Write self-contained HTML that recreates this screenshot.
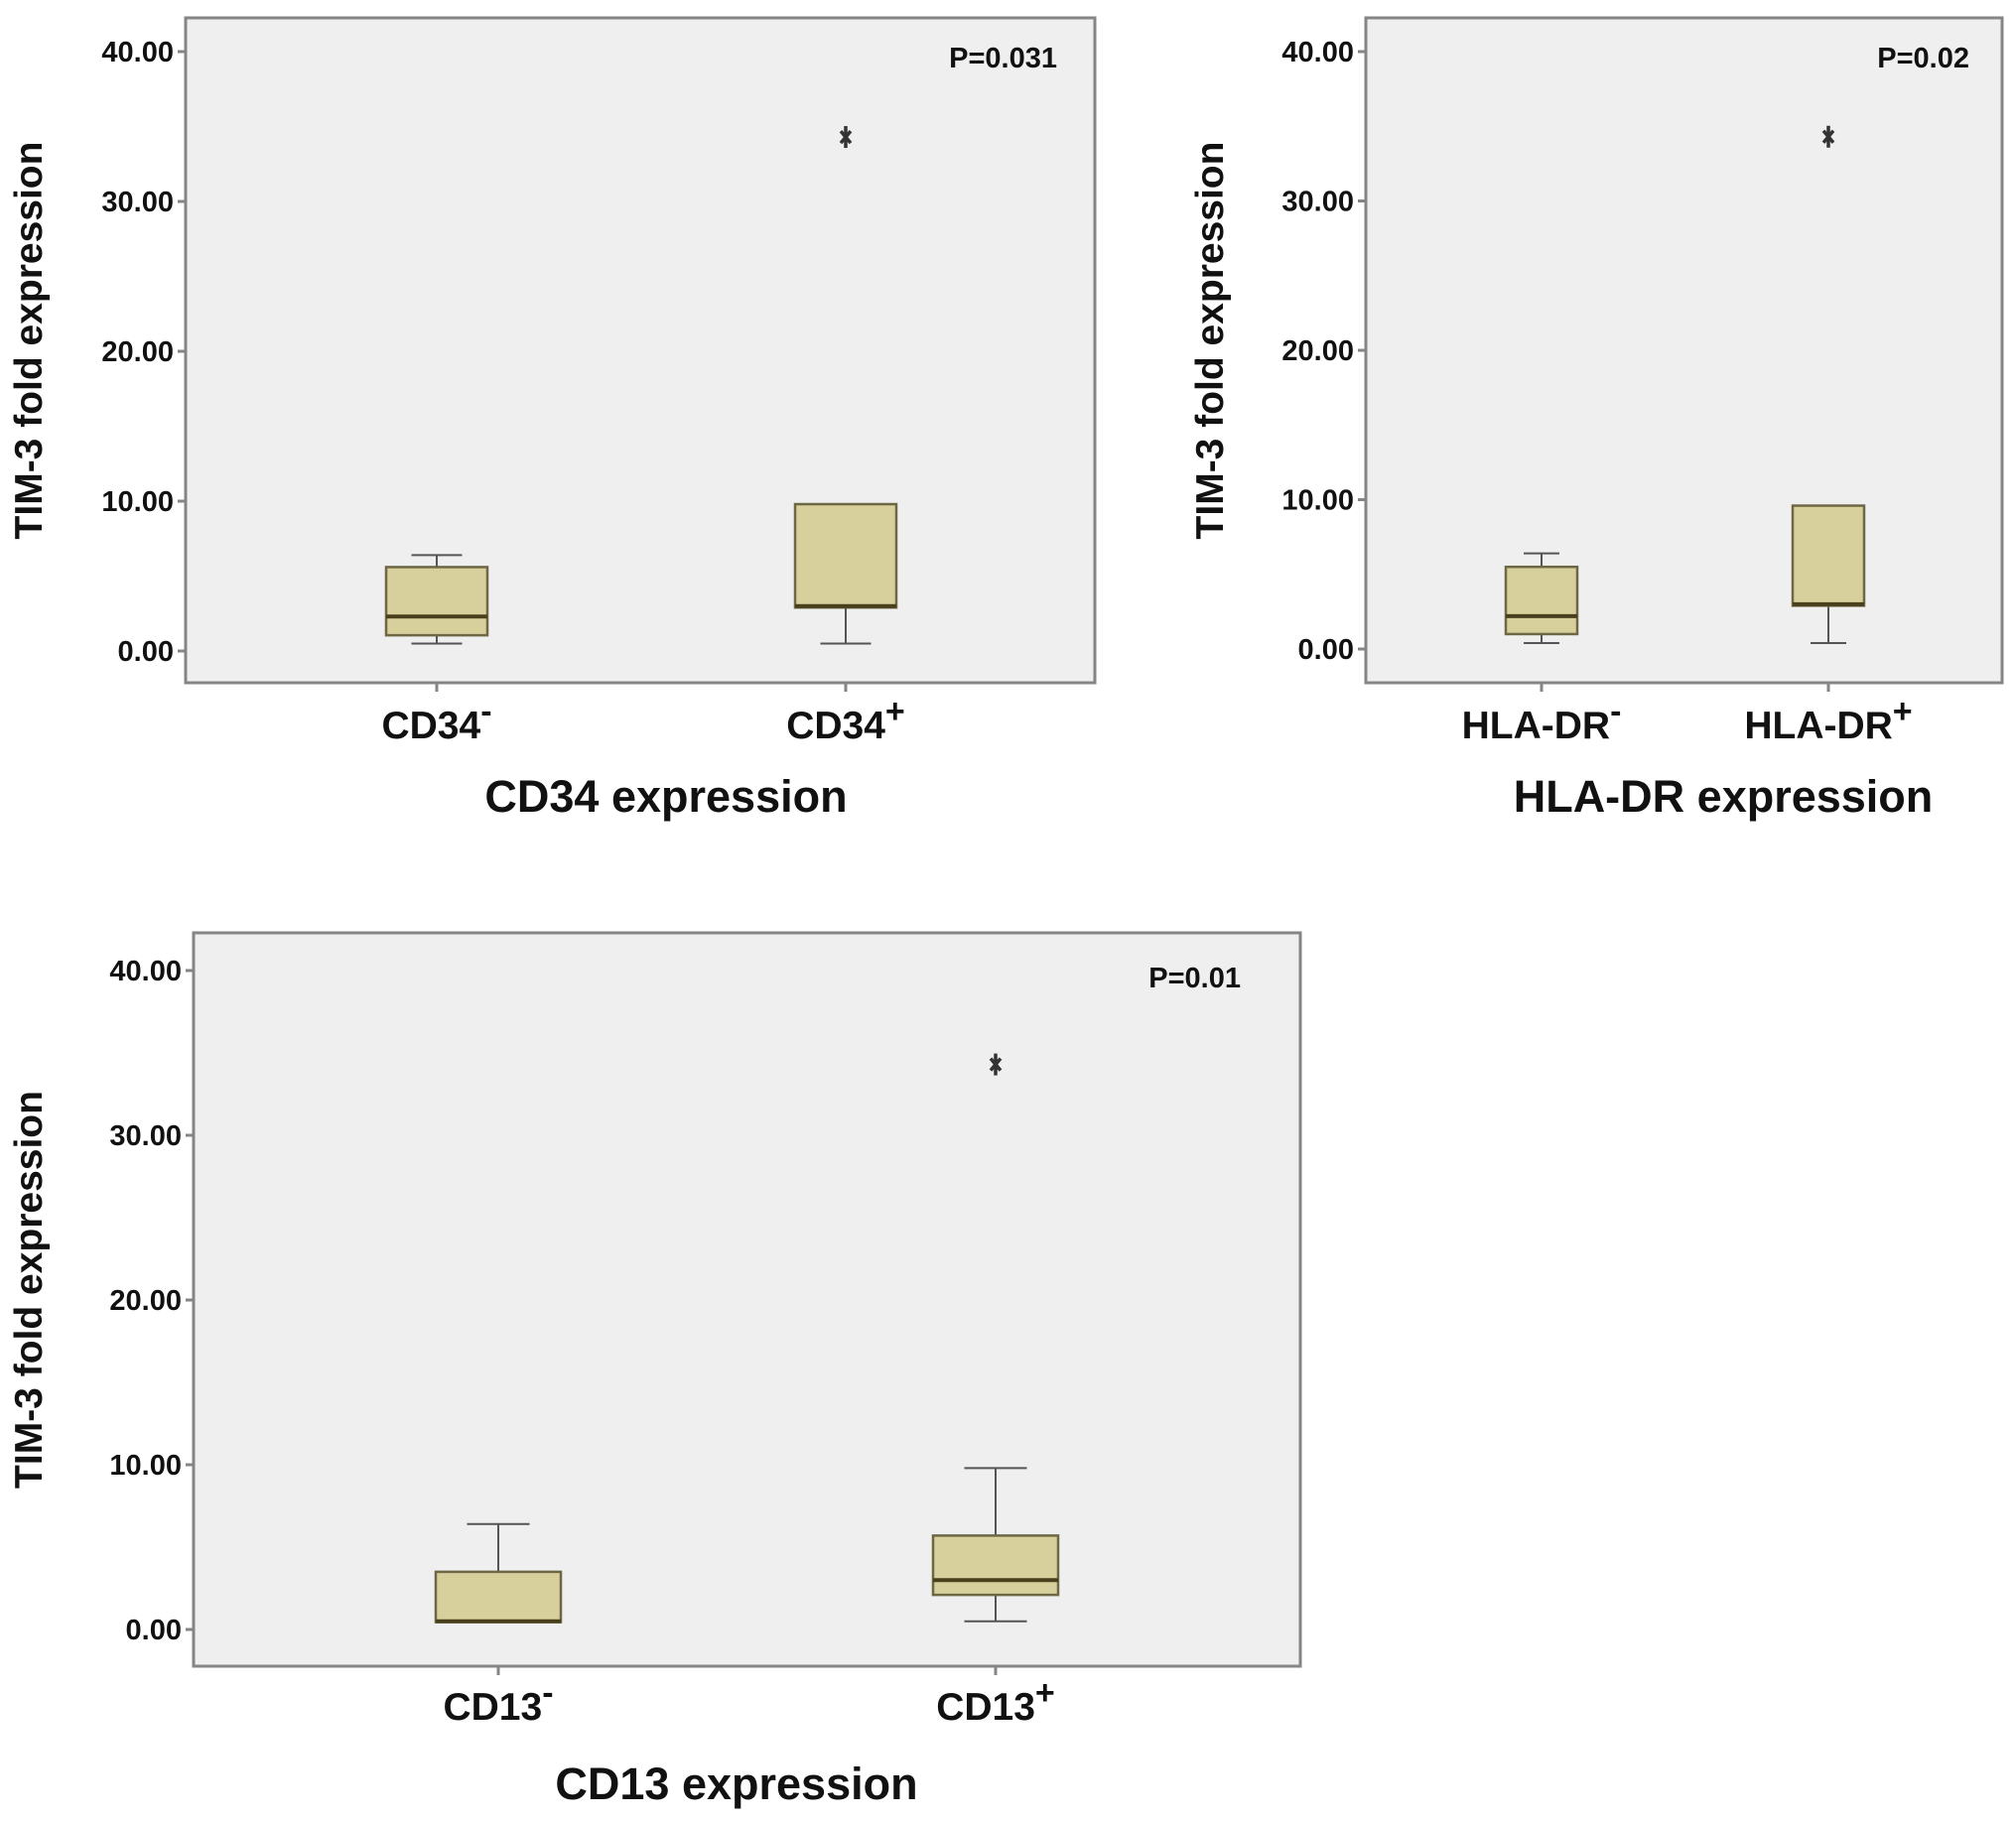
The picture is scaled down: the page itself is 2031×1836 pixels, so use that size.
<!DOCTYPE html>
<html><head><meta charset="utf-8"><style>
html,body{margin:0;padding:0;background:#fff;}
svg text{font-family:"Liberation Sans",Arial,sans-serif;font-weight:bold;fill:#111;}
</style></head><body>
<svg id="c" width="2031" height="1831" viewBox="0 0 2031 1831" xmlns="http://www.w3.org/2000/svg"></svg>
<script>
// Panel data: [whiskerLow, Q1, median, Q3, whiskerHigh]
const cd34Categories = ["CD34", "CD34"];
const cd34Signs = ["-", "+"];
const cd34Stats = [[0.5, 1.05, 2.3, 5.6, 6.4], [0.5, 2.9, 3.0, 9.8, 9.8]];
const cd34Outliers = [[], [34.3]];
const hlaCategories = ["HLA-DR", "HLA-DR"];
const hlaSigns = ["-", "+"];
const hlaStats = [[0.4, 1.0, 2.2, 5.5, 6.4], [0.4, 2.9, 3.0, 9.6, 9.6]];
const hlaOutliers = [[], [34.3]];
const cd13Categories = ["CD13", "CD13"];
const cd13Signs = ["-", "+"];
const cd13Stats = [[0.45, 0.45, 0.5, 3.5, 6.4], [0.5, 2.1, 3.0, 5.7, 9.8]];
const cd13Outliers = [[], [34.3]];
const yTicks = [0, 10, 20, 30, 40];
const yTickLabels = ["0.00", "10.00", "20.00", "30.00", "40.00"];

const NS = "http://www.w3.org/2000/svg";
const svg = document.getElementById("c");
function mk(tag, attrs, parent) {
  const e = document.createElementNS(NS, tag);
  for (const k in attrs) e.setAttribute(k, attrs[k]);
  (parent || svg).appendChild(e);
  return e;
}

function panel(cfg) {
  const g = mk("g", {});
  
  
  const y = v => cfg.y0 + (cfg.y40 - cfg.y0) * v / 40;
  const fr = mk("rect", {x: cfg.L, y: cfg.T, width: cfg.R - cfg.L, height: cfg.B - cfg.T, fill: "#efefef", stroke: "#858585", "stroke-width": 3}, g);
  
  
  yTicks.forEach((t, i) => {
    const ty = y(t);
    const tk = mk("line", {x1: cfg.L - 8, x2: cfg.L, y1: ty, y2: ty, stroke: "#858585", "stroke-width": 3}, g);
    
    
    const tl = mk("text", {x: cfg.L - 12, y: ty + 10, "text-anchor": "end", "font-size": 29}, g);
    tl.textContent = yTickLabels[i];
    
    
  });
  const yt = mk("text", {x: 0, y: 0, transform: `translate(${cfg.yTitleX},${(cfg.T + cfg.B) / 2 - 10}) rotate(-90)`, "text-anchor": "middle", "font-size": 39}, g);
  yt.textContent = "TIM-3 fold expression";
  
  
  cfg.stats.forEach((s, i) => {
    const cx = cfg.centers[i], hw = cfg.halfW;
    const xt = mk("line", {x1: cx, x2: cx, y1: cfg.B, y2: cfg.B + 9, stroke: "#858585", "stroke-width": 3}, g);
    
    
    const wh = mk("g", {stroke: "#555", "stroke-width": 2}, g);
    
    
    mk("line", {x1: cx, x2: cx, y1: y(s[0]), y2: y(s[1])}, wh);
    mk("line", {x1: cx, x2: cx, y1: y(s[3]), y2: y(s[4])}, wh);
    mk("line", {x1: cx - hw / 2, x2: cx + hw / 2, y1: y(s[0]), y2: y(s[0])}, wh);
    mk("line", {x1: cx - hw / 2, x2: cx + hw / 2, y1: y(s[4]), y2: y(s[4])}, wh);
    const bx = mk("rect", {x: cx - hw, y: y(s[3]), width: 2 * hw, height: Math.max(1, y(s[1]) - y(s[3])), fill: "#d7d09d", stroke: "#6d6744", "stroke-width": 2.5}, g);
    
    
    const md = mk("line", {x1: cx - hw, x2: cx + hw, y1: y(s[2]), y2: y(s[2]), stroke: "#4a3f1c", "stroke-width": 4}, g);
    
    
    cfg.outliers[i].forEach(o => {
      const oy = y(o);
      const og = mk("g", {stroke: "#333", "stroke-width": 3.5}, g);
      
      
      mk("line", {x1: cx, x2: cx, y1: oy - 11, y2: oy + 11}, og);
      mk("line", {x1: cx - 5, x2: cx + 5, y1: oy - 6, y2: oy + 6}, og);
      mk("line", {x1: cx - 5, x2: cx + 5, y1: oy + 6, y2: oy - 6}, og);
    });
    const cl = mk("text", {x: cx, y: cfg.catY, "text-anchor": "middle", "font-size": 39}, g);
    
    
    const t1 = mk("tspan", {}, cl); t1.textContent = cfg.cats[i];
    const t2 = mk("tspan", {dy: -16, "font-size": 34}, cl); t2.textContent = cfg.signs[i] === "-" ? "-" : "+";
  });
  const xt = mk("text", {x: cfg.xTitleX, y: cfg.xTitleY, "text-anchor": "middle", "font-size": 45}, g);
  xt.textContent = cfg.xTitle;
  
  
  const p = mk("text", {x: cfg.pX, y: cfg.pY, "text-anchor": "end", "font-size": 29}, g);
  p.textContent = cfg.p;
  
  
}

panel({name: "cd34-panel", L: 187, R: 1103, T: 18, B: 688, y0: 656, y40: 52, yTitleX: 42,
  centers: [440, 852], halfW: 51, stats: cd34Stats, outliers: cd34Outliers, cats: cd34Categories, signs: cd34Signs,
  catY: 744, xTitle: "CD34 expression", xTitleX: 671, xTitleY: 818, p: "P=0.031", pX: 1065, pY: 68});
panel({name: "hla-dr-panel", L: 1376, R: 2017, T: 18, B: 688, y0: 654, y40: 52, yTitleX: 1232,
  centers: [1553, 1842], halfW: 36, stats: hlaStats, outliers: hlaOutliers, cats: hlaCategories, signs: hlaSigns,
  catY: 744, xTitle: "HLA-DR expression", xTitleX: 1736, xTitleY: 818, p: "P=0.02", pX: 1984, pY: 68});
panel({name: "cd13-panel", L: 195, R: 1310, T: 940, B: 1679, y0: 1642, y40: 978, yTitleX: 42,
  centers: [502, 1003], halfW: 63, stats: cd13Stats, outliers: cd13Outliers, cats: cd13Categories, signs: cd13Signs,
  catY: 1733, xTitle: "CD13 expression", xTitleX: 742, xTitleY: 1813, p: "P=0.01", pX: 1250, pY: 995});
</script>
</body></html>
